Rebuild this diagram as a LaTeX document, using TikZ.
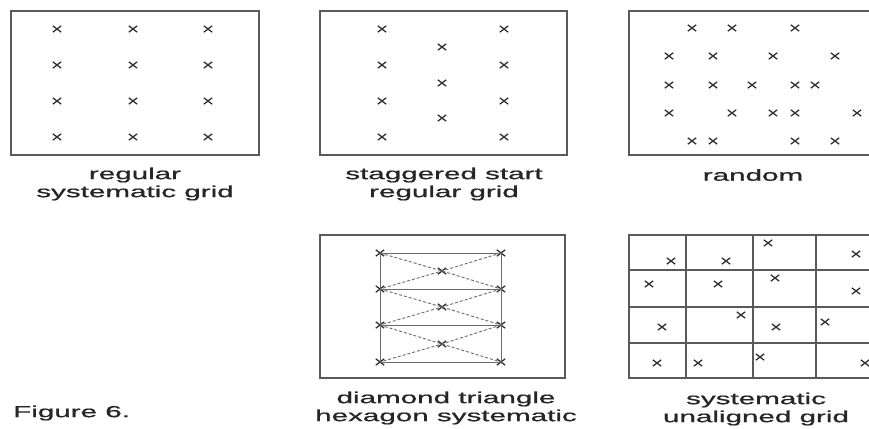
\documentclass[tikz,border=0pt]{standalone}
\usepackage{fontspec}
\setmainfont{Liberation Sans}
\newfontfamily\lblfont[FakeBold=0.7]{Liberation Sans}
\usetikzlibrary{shapes.misc}
\definecolor{framecol}{HTML}{5A5A5A}
\definecolor{xcol}{HTML}{303030}
\definecolor{txtcol}{HTML}{262626}
\definecolor{linecol}{HTML}{6A6A6A}
\newcommand\sx[1]{\scalebox{1.85}[1]{#1}}
\tikzset{
  frame/.style={draw=framecol, line width=1.9pt},
  gridln/.style={draw=framecol, line width=1.5pt},
  xm/.style={cross out, draw=xcol, line width=1.3pt, minimum width=7pt, minimum height=5pt, inner sep=0pt},
  lbl/.style={font=\lblfont\fontsize{16}{18}\selectfont, text=txtcol, align=center, inner sep=0pt},
  solidln/.style={draw=linecol, line width=0.9pt},
  dashln/.style={draw=linecol, line width=0.9pt, dash pattern=on 3pt off 2pt},
}
\begin{document}
\begin{tikzpicture}[x=1pt,y=-1pt]
\useasboundingbox (0,0) rectangle (869,428);
\clip (0,0) rectangle (869,428);
\fill[white] (0,0) rectangle (869,428);

% ---------- panel 1: regular systematic grid
\draw[frame] (11,11) rectangle (259,155);
\foreach \c/\x in {1/57,2/133,3/208}{
  \foreach \r/\y in {1/29,2/65,3/101,4/137}{
    \node[xm] (a\r\c) at (\x,\y) {};
  }
}
\node[lbl] (la) at (135,184) {\sx{regular}\\\sx{systematic grid}};

% ---------- panel 2: staggered start regular grid
\draw[frame] (320,11) rectangle (567,155);
\foreach \r/\y in {1/29,2/65,3/101,4/137}{
  \node[xm] (bl\r) at (382,\y) {};
  \node[xm] (br\r) at (504,\y) {};
}
\foreach \r/\y in {1/47,2/83,3/118}{
  \node[xm] (bm\r) at (442,\y) {};
}
\node[lbl] (lb) at (444,184) {\sx{staggered start}\\\sx{regular grid}};

% ---------- panel 3: random
\draw[frame] (629,11) rectangle (885,155);
\foreach \n/\x/\y in {1/692/28,2/732/28,3/795/28,
  4/669/56,5/713/56,6/773/56,7/835/56,
  8/669/85,9/713/85,10/752/85,11/795/85,12/815/85,
  13/669/113,14/732/113,15/773/113,16/795/113,17/857/113,
  18/692/141,19/713/141,20/795/141,21/835/141}{
  \node[xm] (c\n) at (\x,\y) {};
}
\node[lbl] (lc) at (753,175) {\sx{random}};

% ---------- panel 4: diamond triangle hexagon systematic
\draw[frame] (320,235) rectangle (565,378);
\foreach \r/\y in {1/253,2/289,3/325,4/362}{
  \node[xm] (dl\r) at (380,\y) {};
  \node[xm] (dr\r) at (501,\y) {};
}
\foreach \r/\y in {1/271,2/307,3/344}{
  \node[xm] (dm\r) at (442,\y) {};
}
\draw[solidln] (dl1.center) -- (dl4.center);
\draw[solidln] (dr1.center) -- (dr4.center);
\foreach \r in {1,2,3,4}{
  \draw[solidln] (dl\r.center) -- (dr\r.center);
}
\foreach \r/\s in {1/2,2/3,3/4}{
  \draw[dashln] (dl\r.center) -- (dm\r.center) -- (dr\s.center);
  \draw[dashln] (dr\r.center) -- (dm\r.center) -- (dl\s.center);
}
\node[lbl] (ld) at (446,408) {\sx{diamond triangle}\\\sx{hexagon systematic}};

% ---------- panel 5: systematic unaligned grid
\draw[frame] (629,235) rectangle (885,378);
\draw[gridln] (686,235) -- (686,378);
\draw[gridln] (753,235) -- (753,378);
\draw[gridln] (816,235) -- (816,378);
\draw[gridln] (629,270) -- (885,270);
\draw[gridln] (629,307) -- (885,307);
\draw[gridln] (629,343) -- (885,343);
\foreach \n/\x/\y in {1/671/261,2/726/261,3/768/243,4/856/254,
  5/649/284,6/718/284,7/775/278,8/856/291,
  9/662/327,10/741/315,11/776/327,12/825/322,
  13/657/363,14/698/363,15/760/357,16/865/363}{
  \node[xm] (e\n) at (\x,\y) {};
}
\node[lbl] (le) at (756,409) {\sx{systematic}\\\sx{unaligned grid}};

% ---------- caption
\node[lbl, anchor=west] (fig) at (13,413) {\sx{Figure 6.}};
\end{tikzpicture}
\end{document}
